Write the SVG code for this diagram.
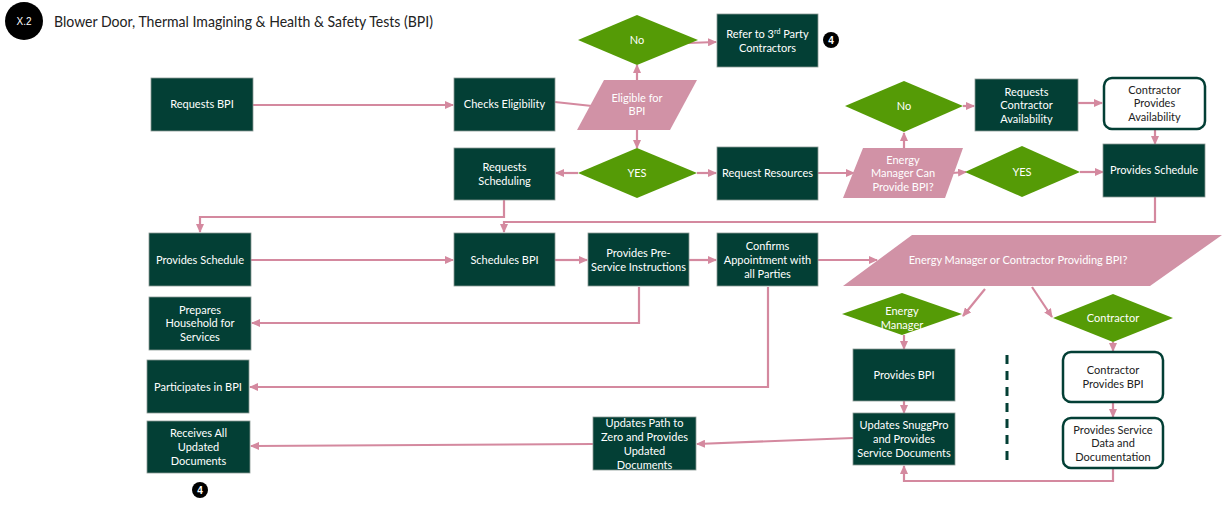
<svg xmlns="http://www.w3.org/2000/svg" width="1225" height="508" viewBox="0 0 1225 508">
<style>
.box{fill:#033f35;stroke:#8a9a94;stroke-width:0.8}
.rbox{fill:#ffffff;stroke:#033f35;stroke-width:2.5}
.dia{fill:#559b06}
.par{fill:#d192a6}
.t{font-family:Lato,"Liberation Sans",sans-serif;font-size:11px;fill:#ffffff;text-anchor:middle}
.td{font-family:Lato,"Liberation Sans",sans-serif;font-size:11px;fill:#222222;text-anchor:middle}
.c{fill:none;stroke:#d4899f;stroke-width:2.2}
.badge{fill:#000000}
.bt{font-family:"Liberation Sans",Arial,sans-serif;font-size:10px;font-weight:bold;fill:#ffffff;text-anchor:middle}
</style>
<defs>
<marker id="ah" markerWidth="9" markerHeight="8" refX="8" refY="4" orient="auto" markerUnits="userSpaceOnUse">
<path d="M0,0 L9,4 L0,8 Z" fill="#d4899f"/>
</marker>
</defs>
<rect width="1225" height="508" fill="#ffffff"/>

<g id="title">
<circle cx="24" cy="21" r="19" fill="#000000"/>
<text x="24" y="25" class="bt" style="font-size:10px;font-weight:normal">X.2</text>
<text x="54" y="27" font-family="Lato,'Liberation Sans',sans-serif" font-size="15" fill="#222222" textLength="379" lengthAdjust="spacingAndGlyphs">Blower Door, Thermal Imagining &amp; Health &amp; Safety Tests (BPI)</text>
</g>

<g id="connectors">
<line class="c" x1="253" y1="105" x2="453" y2="105" marker-end="url(#ah)"/>
<line class="c" x1="555" y1="102" x2="592" y2="106"/>
<line class="c" x1="637" y1="80" x2="637" y2="65" marker-end="url(#ah)"/>
<line class="c" x1="688" y1="43" x2="716" y2="42" marker-end="url(#ah)"/>
<line class="c" x1="637" y1="130" x2="637" y2="148" marker-end="url(#ah)"/>
<line class="c" x1="578" y1="173" x2="556" y2="173" marker-end="url(#ah)"/>
<line class="c" x1="697" y1="173" x2="716" y2="173" marker-end="url(#ah)"/>
<line class="c" x1="818" y1="173" x2="854" y2="173" marker-end="url(#ah)"/>
<line class="c" x1="904" y1="148" x2="904" y2="133" marker-end="url(#ah)"/>
<line class="c" x1="963" y1="106" x2="974" y2="106" marker-end="url(#ah)"/>
<line class="c" x1="1078" y1="103" x2="1102" y2="103" marker-end="url(#ah)"/>
<line class="c" x1="1155" y1="130" x2="1155" y2="144" marker-end="url(#ah)"/>
<line class="c" x1="952" y1="173" x2="966" y2="172" marker-end="url(#ah)"/>
<line class="c" x1="1080" y1="172" x2="1103" y2="172" marker-end="url(#ah)"/>
<polyline class="c" points="1155,197 1155,222 504,222 504,232" marker-end="url(#ah)"/>
<polyline class="c" points="504,200 504,217 200,217 200,232" marker-end="url(#ah)"/>
<line class="c" x1="251" y1="260" x2="453" y2="260" marker-end="url(#ah)"/>
<line class="c" x1="555" y1="260" x2="587" y2="260" marker-end="url(#ah)"/>
<line class="c" x1="689" y1="260" x2="716" y2="260" marker-end="url(#ah)"/>
<line class="c" x1="818" y1="260" x2="877" y2="260" marker-end="url(#ah)"/>
<line class="c" x1="985" y1="289" x2="963" y2="316" marker-end="url(#ah)"/>
<line class="c" x1="1032" y1="287" x2="1052" y2="317" marker-end="url(#ah)"/>
<line class="c" x1="904" y1="335" x2="904" y2="349" marker-end="url(#ah)"/>
<line class="c" x1="1113" y1="342" x2="1113" y2="351" marker-end="url(#ah)"/>
<line class="c" x1="904" y1="401" x2="904" y2="413" marker-end="url(#ah)"/>
<line class="c" x1="1113" y1="403" x2="1113" y2="417" marker-end="url(#ah)"/>
<polyline class="c" points="1113,469 1113,481 904,481 904,466" marker-end="url(#ah)"/>
<line class="c" x1="853" y1="438" x2="697" y2="444" marker-end="url(#ah)"/>
<line class="c" x1="593" y1="444" x2="251" y2="446" marker-end="url(#ah)"/>
<polyline class="c" points="639,287 639,323 252,323" marker-end="url(#ah)"/>
<polyline class="c" points="768,287 768,387 250,387" marker-end="url(#ah)"/>
<line x1="1007" y1="355" x2="1007" y2="466" stroke="#033f35" stroke-width="3" stroke-dasharray="9,7"/>
</g>

<g id="requests-bpi"><rect class="box" x="151" y="78" width="102" height="53"/><text class="t" x="202" y="108">Requests BPI</text></g>
<g id="checks-eligibility"><rect class="box" x="454" y="78" width="101" height="53"/><text class="t" x="504.5" y="108">Checks Eligibility</text></g>
<g id="eligible"><polygon class="par" points="604,80 697,80 670,130 577,130"/><text class="t" x="637" y="102">Eligible for</text><text class="t" x="637" y="115">BPI</text></g>
<g id="no-top"><polygon class="dia" points="578,40 637,15 698,40 637,65"/><text class="t" x="637" y="44">No</text></g>
<g id="refer"><rect class="box" x="717" y="14" width="101" height="53"/><text class="t" x="767.5" y="38">Refer to 3<tspan font-size="7" dy="-4">rd</tspan><tspan dy="4"> Party</tspan></text><text class="t" x="767.5" y="52">Contractors</text></g>
<g id="badge-top"><circle class="badge" cx="831" cy="40" r="8"/><text class="bt" x="831" y="44">4</text></g>
<g id="yes-mid"><polygon class="dia" points="578,173 637,148 697,173 637,198"/><text class="t" x="637" y="177">YES</text></g>
<g id="requests-scheduling"><rect class="box" x="454" y="148" width="101" height="52"/><text class="t" x="504.5" y="171">Requests</text><text class="t" x="504.5" y="185">Scheduling</text></g>
<g id="request-resources"><rect class="box" x="717" y="147" width="101" height="53"/><text class="t" x="767.5" y="177">Request Resources</text></g>
<g id="em-can-provide"><polygon class="par" points="863,148 963,148 945,198 843,198"/><text class="t" x="903" y="164">Energy</text><text class="t" x="903" y="177">Manager Can</text><text class="t" x="903" y="191">Provide BPI?</text></g>
<g id="no-right"><polygon class="dia" points="845,106 904,81 963,106 904,132"/><text class="t" x="904" y="110">No</text></g>
<g id="requests-contractor"><rect class="box" x="975" y="79" width="103" height="52"/><text class="t" x="1026.5" y="96">Requests</text><text class="t" x="1026.5" y="109">Contractor</text><text class="t" x="1026.5" y="123">Availability</text></g>
<g id="contractor-availability"><rect class="rbox" x="1104" y="78" width="101" height="51" rx="8"/><text class="td" x="1154.5" y="94">Contractor</text><text class="td" x="1154.5" y="107">Provides</text><text class="td" x="1154.5" y="121">Availability</text></g>
<g id="yes-right"><polygon class="dia" points="965,172 1022,146 1080,172 1022,197"/><text class="t" x="1022" y="176">YES</text></g>
<g id="provides-schedule-right"><rect class="box" x="1103" y="144" width="102" height="53"/><text class="t" x="1154" y="174">Provides Schedule</text></g>
<g id="provides-schedule-left"><rect class="box" x="149" y="233" width="102" height="53"/><text class="t" x="200" y="264">Provides Schedule</text></g>
<g id="schedules-bpi"><rect class="box" x="454" y="233" width="101" height="53"/><text class="t" x="504.5" y="264">Schedules BPI</text></g>
<g id="pre-service"><rect class="box" x="588" y="233" width="101" height="53"/><text class="t" x="638.5" y="257">Provides Pre-</text><text class="t" x="638.5" y="271">Service Instructions</text></g>
<g id="confirms"><rect class="box" x="717" y="233" width="101" height="53"/><text class="t" x="767.5" y="250">Confirms</text><text class="t" x="767.5" y="264">Appointment with</text><text class="t" x="767.5" y="278">all Parties</text></g>
<g id="em-or-contractor"><polygon class="par" points="912,235 1222,235 1150,286 843,286"/><text class="t" x="1018" y="264">Energy Manager or Contractor Providing BPI?</text></g>
<g id="energy-manager"><polygon class="dia" points="842,314 902,293 962,314 902,335"/><text class="t" x="902" y="315">Energy</text><text class="t" x="902" y="329">Manager</text></g>
<g id="contractor"><polygon class="dia" points="1053,318 1113,294 1173,318 1113,342"/><text class="t" x="1113" y="322">Contractor</text></g>
<g id="provides-bpi"><rect class="box" x="853" y="349" width="102" height="52"/><text class="t" x="904" y="379">Provides BPI</text></g>
<g id="updates-snuggpro"><rect class="box" x="853" y="413" width="102" height="52"/><text class="t" x="904" y="429">Updates SnuggPro</text><text class="t" x="904" y="443">and Provides</text><text class="t" x="904" y="457">Service Documents</text></g>
<g id="contractor-provides-bpi"><rect class="rbox" x="1063" y="352" width="100" height="50" rx="8"/><text class="td" x="1113" y="374">Contractor</text><text class="td" x="1113" y="388">Provides BPI</text></g>
<g id="service-data"><rect class="rbox" x="1063" y="418" width="100" height="50" rx="8"/><text class="td" x="1113" y="434">Provides Service</text><text class="td" x="1113" y="447">Data and</text><text class="td" x="1113" y="461">Documentation</text></g>
<g id="updates-path"><rect class="box" x="593" y="417" width="103" height="53"/><text class="t" x="644.5" y="427">Updates Path to</text><text class="t" x="644.5" y="441">Zero and Provides</text><text class="t" x="644.5" y="455">Updated</text><text class="t" x="644.5" y="469">Documents</text></g>
<g id="prepares"><rect class="box" x="149" y="297" width="102" height="53"/><text class="t" x="200" y="314">Prepares</text><text class="t" x="200" y="327">Household for</text><text class="t" x="200" y="341">Services</text></g>
<g id="participates"><rect class="box" x="147" y="360" width="102" height="53"/><text class="t" x="198" y="391">Participates in BPI</text></g>
<g id="receives"><rect class="box" x="147" y="421" width="103" height="52"/><text class="t" x="198.5" y="437">Receives All</text><text class="t" x="198.5" y="451">Updated</text><text class="t" x="198.5" y="465">Documents</text></g>
<g id="badge-bottom"><circle class="badge" cx="200" cy="490" r="8"/><text class="bt" x="200" y="494">4</text></g>
</svg>
